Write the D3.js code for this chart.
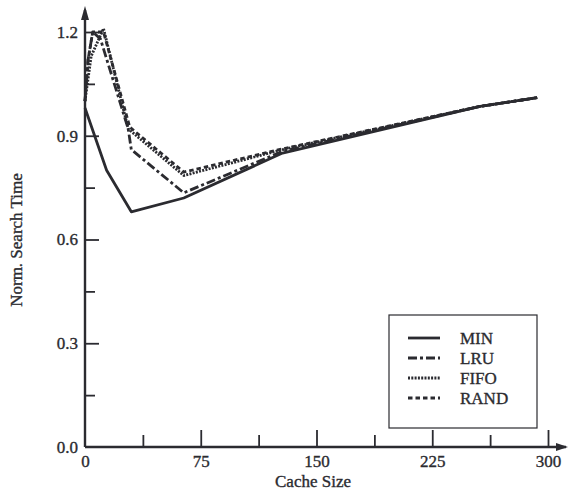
<!DOCTYPE html>
<html>
<head>
<meta charset="utf-8">
<script src="https://cdn.jsdelivr.net/npm/d3@7"></script>
<style>
  html, body { margin: 0; padding: 0; background: #fff; }
  svg { display: block; }
  text { font-family: "Liberation Serif", "Times New Roman", serif; fill: #2b2b30; stroke: #2b2b30; stroke-width: 0.35px; }
</style>
</head>
<body>
<svg id="chart" width="570" height="493"></svg>
<script>
// Normalized search time vs. cache size for four replacement policies
const cacheSizeMin = [0, 14, 30, 64, 128, 256, 293];
const minValues    = [0.98, 0.80, 0.68, 0.72, 0.85, 0.985, 1.01];

const cacheSizeLru = [0, 2, 5, 10, 28, 30, 64, 128, 256, 293];
const lruValues    = [1.00, 1.12, 1.20, 1.18, 0.92, 0.86, 0.735, 0.855, 0.985, 1.01];

const cacheSizeFifo = [0, 4, 8, 12, 28, 64, 128, 256, 293];
const fifoValues    = [1.00, 1.13, 1.17, 1.21, 0.92, 0.785, 0.86, 0.985, 1.01];

const cacheSizeRand = [0, 2, 5, 12, 29, 64, 128, 256, 293];
const randValues    = [1.00, 1.12, 1.20, 1.20, 0.925, 0.795, 0.862, 0.985, 1.01];

const xTicks = [0, 75, 150, 225, 300];
const xMinorTicks = [37.5, 112.5, 187.5, 262.5];
const yTicks = [0.0, 0.3, 0.6, 0.9, 1.2];
const yMinorTicks = [0.15, 0.45, 0.75, 1.05];

const seriesNames = ["MIN", "LRU", "FIFO", "RAND"];

const series = [
  { name: seriesNames[0], xs: cacheSizeMin,  ys: minValues,  dash: null,        width: 2.8 },
  { name: seriesNames[1], xs: cacheSizeLru,  ys: lruValues,  dash: "9,3,3,3",   width: 2.8 },
  { name: seriesNames[2], xs: cacheSizeFifo, ys: fifoValues, dash: "2,1.3",     width: 2.8 },
  { name: seriesNames[3], xs: cacheSizeRand, ys: randValues, dash: "4.5,3",     width: 2.8 }
];

const ink = "#2b2b30";
const svg = d3.select("#chart");

const x = d3.scaleLinear().domain([0, 300]).range([85, 548]);
const y = d3.scaleLinear().domain([0, 1.2]).range([447, 32]);

// axis lines with arrowheads
svg.append("line").attr("x1", x(0)).attr("y1", y(0)).attr("x2", 566).attr("y2", y(0))
  .attr("stroke", ink).attr("stroke-width", 2.4);
svg.append("path").attr("d", `M568,${y(0)} L556,${y(0) - 4} L556,${y(0) + 4} Z`).attr("fill", ink);
svg.append("line").attr("x1", x(0)).attr("y1", y(0)).attr("x2", x(0)).attr("y2", 10)
  .attr("stroke", ink).attr("stroke-width", 2.4);
svg.append("path").attr("d", `M${x(0)},6 L${x(0) - 4},20 L${x(0) + 4},20 Z`).attr("fill", ink);

// x axis ticks (drawn inward) and labels
const gx = svg.append("g").attr("transform", `translate(0,${y(0)})`)
  .call(d3.axisBottom(x).tickValues(xTicks).tickFormat(d3.format("d"))
    .tickSizeInner(-17).tickSizeOuter(0).tickPadding(8));
const gxMinor = svg.append("g").attr("transform", `translate(0,${y(0)})`)
  .call(d3.axisBottom(x).tickValues(xMinorTicks).tickFormat("")
    .tickSizeInner(-12).tickSizeOuter(0));

// y axis ticks (drawn inward) and labels
const gy = svg.append("g").attr("transform", `translate(${x(0)},0)`)
  .call(d3.axisLeft(y).tickValues(yTicks).tickFormat(d3.format(".1f"))
    .tickSizeInner(-14).tickSizeOuter(0).tickPadding(7));
const gyMinor = svg.append("g").attr("transform", `translate(${x(0)},0)`)
  .call(d3.axisLeft(y).tickValues(yMinorTicks).tickFormat("")
    .tickSizeInner(-10).tickSizeOuter(0));

[gx, gxMinor, gy, gyMinor].forEach(g => {
  g.select(".domain").remove();
  g.selectAll(".tick line").attr("stroke", ink).attr("stroke-width", 1.8);
  g.selectAll(".tick text").attr("font-size", 17).attr("fill", ink)
    .attr("font-family", "'Liberation Serif', serif");
});
gx.selectAll(".tick").filter(d => d === 0).select("line").remove();
gy.selectAll(".tick").filter(d => d === 0).select("line").remove();

// axis titles
svg.append("text").attr("x", 313).attr("y", 487).attr("text-anchor", "middle")
  .attr("font-size", 17).text("Cache Size");
svg.append("text").attr("transform", "translate(22,240) rotate(-90)")
  .attr("text-anchor", "middle").attr("font-size", 17).text("Norm. Search Time");

// policy curves
const line = d3.line().x(d => x(d[0])).y(d => y(d[1]));
series.forEach(s => {
  const pts = s.xs.map((v, i) => [v, s.ys[i]]);
  svg.append("path").datum(pts).attr("d", line)
    .attr("fill", "none").attr("stroke", ink).attr("stroke-width", s.width)
    .attr("stroke-dasharray", s.dash).attr("stroke-linejoin", "round");
});

// legend
const lg = svg.append("g");
lg.append("rect").attr("x", 389).attr("y", 315).attr("width", 148).attr("height", 113)
  .attr("fill", "#fff").attr("stroke", ink).attr("stroke-width", 1.2);
const rowY = [338, 358, 378, 398];
series.forEach((s, i) => {
  lg.append("line").attr("x1", 408).attr("x2", 440).attr("y1", rowY[i]).attr("y2", rowY[i])
    .attr("stroke", ink).attr("stroke-width", s.width).attr("stroke-dasharray", s.dash);
  lg.append("text").attr("x", 460).attr("y", rowY[i] + 6).attr("font-size", 17)
    .text(s.name);
});
</script>
</body>
</html>
